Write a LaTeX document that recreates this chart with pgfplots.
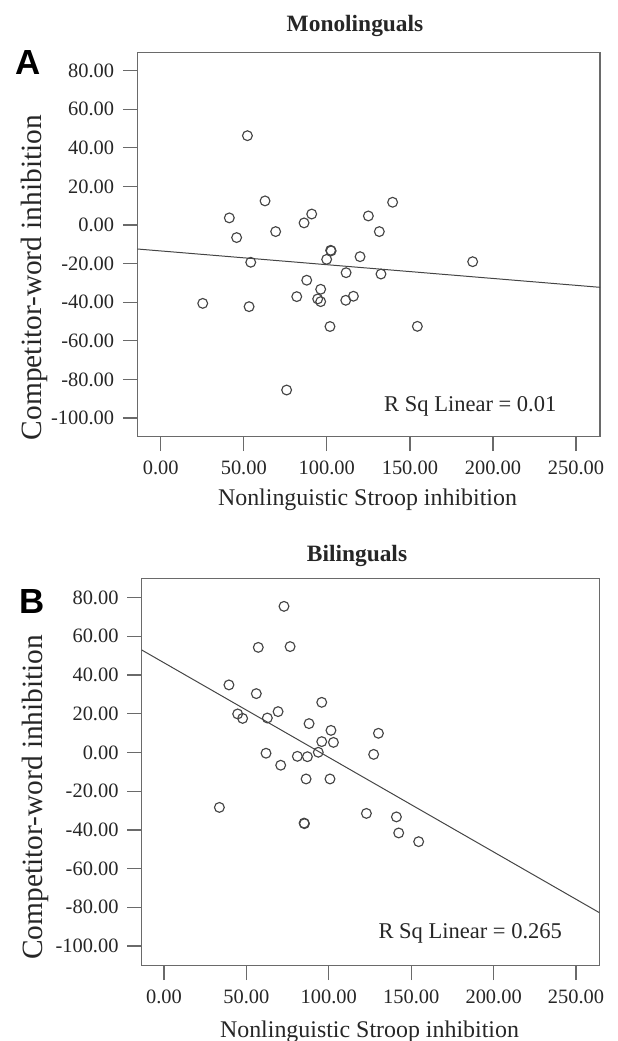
\documentclass[border=0pt]{standalone}
\usepackage{pgfplots}
\pgfplotsset{compat=1.18}
\usepackage{fontspec}
\setmainfont{Liberation Serif}
\newfontfamily\sansfont{Liberation Sans}
\definecolor{frame}{HTML}{6A6A6A}
\definecolor{pts}{HTML}{454545}
\definecolor{txt}{HTML}{262626}

\pgfplotsset{
  spssaxis/.style={
    scale only axis,
    axis line style={frame, line width=1.3pt},
    xtick={0,50,100,150,200,250},
    xticklabels={0.00,50.00,100.00,150.00,200.00,250.00},
    ytick={-100,-80,-60,-40,-20,0,20,40,60,80},
    yticklabels={-100.00,-80.00,-60.00,-40.00,-20.00,0.00,20.00,40.00,60.00,80.00},
    tick align=outside,
    xtick pos=bottom, ytick pos=left,
    major tick length=14.5bp,
    major tick style={frame, line width=1.3pt},
    tick label style={font=\fontsize{20.5}{20.5}\selectfont, text=txt, inner sep=0pt},
    xticklabel style={yshift=-10bp},
    yticklabel style={xshift=-8.5bp},
    enlargelimits=false,
  },
  scat/.style={only marks, mark=o, mark size=4.9bp, mark options={pts, line width=1.15pt}},
  fitline/.style={pts, line width=1pt, no marks},
}

\pgfplotstableread{
x y
52.2 46.3
62.8 12.5
41.3 3.7
90.9 5.7
86.3 1.1
69.2 -3.4
45.7 -6.5
125.0 4.7
139.6 11.8
131.6 -3.4
102.3 -13.1
102.6 -13.4
99.9 -17.8
120.0 -16.4
54.2 -19.3
187.8 -19.0
111.6 -24.7
132.6 -25.4
87.9 -28.6
96.3 -33.3
81.9 -37.1
116.0 -36.9
94.5 -38.3
96.3 -39.7
111.4 -39.0
25.3 -40.6
53.2 -42.3
101.9 -52.6
154.5 -52.5
75.8 -85.5
}\mono

\pgfplotstableread{
x y
72.8 75.5
57.2 54.3
76.5 54.7
39.4 34.9
56.0 30.4
95.7 25.9
44.7 19.9
47.7 17.6
62.7 17.8
69.2 21.1
88.0 14.9
101.3 11.4
130.1 9.9
95.7 5.6
102.8 5.2
93.6 0.1
61.9 -0.4
127.2 -1.0
80.9 -2.0
87.0 -2.2
70.8 -6.6
86.2 -13.7
100.7 -13.7
33.6 -28.4
122.8 -31.5
141.0 -33.3
85.0 -36.5
85.2 -36.8
142.4 -41.6
154.5 -46.1
}\bil

\begin{document}
\begin{tikzpicture}
\path[use as bounding box] (0,0) rectangle (618bp,1041bp);

% ---------- Panel A ----------
\begin{axis}[spssaxis,
  at={(137.3bp,604.3bp)}, anchor=south west,
  width=462.7bp, height=384.4bp,
  xmin=-14.09, xmax=264.45, ymin=-109.69, ymax=89.52]
\addplot[scat] table[x=x,y=y] {\mono};
\addplot[fitline] coordinates {(-14.09,-12.42) (264.45,-32.28)};
\end{axis}

% ---------- Panel B ----------
\begin{axis}[spssaxis,
  at={(141.7bp,75.3bp)}, anchor=south west,
  width=457.6bp, height=387.4bp,
  xmin=-13.53, xmax=264.1, ymin=-110.2, ymax=90.0]
\addplot[scat] table[x=x,y=y] {\bil};
\addplot[fitline] coordinates {(-13.53,52.96) (264.1,-82.77)};
\end{axis}

% ---------- Text ----------
\begin{scope}[every node/.style={text=txt, inner sep=0pt}]
\node[anchor=base] at (355bp,1009.3bp) {\fontsize{23.5}{23.5}\selectfont\bfseries Monolinguals};
\node[anchor=base] at (357bp,479bp) {\fontsize{23.5}{23.5}\selectfont\bfseries Bilinguals};
\node[anchor=base west, text=black] at (15.7bp,966bp) {\fontsize{35}{35}\selectfont\sansfont\bfseries A};
\node[anchor=base west, text=black] at (19.5bp,427bp) {\fontsize{35}{35}\selectfont\sansfont\bfseries B};
\node[anchor=base, rotate=90] at (41.5bp,763.5bp) {\fontsize{29.5}{29.5}\selectfont Competitor-word inhibition};
\node[anchor=base, rotate=90] at (42.5bp,243.8bp) {\fontsize{29.5}{29.5}\selectfont Competitor-word inhibition};
\node[anchor=base] at (367.5bp,535bp) {\fontsize{24}{24}\selectfont Nonlinguistic Stroop inhibition};
\node[anchor=base] at (369.5bp,3.7bp) {\fontsize{24}{24}\selectfont Nonlinguistic Stroop inhibition};
\node[anchor=base west] at (384bp,629.3bp) {\fontsize{22.6}{22.6}\selectfont R Sq Linear = 0.01};
\node[anchor=base west] at (378.3bp,102.7bp) {\fontsize{22.6}{22.6}\selectfont R Sq Linear = 0.265};
\end{scope}
\end{tikzpicture}
\end{document}
